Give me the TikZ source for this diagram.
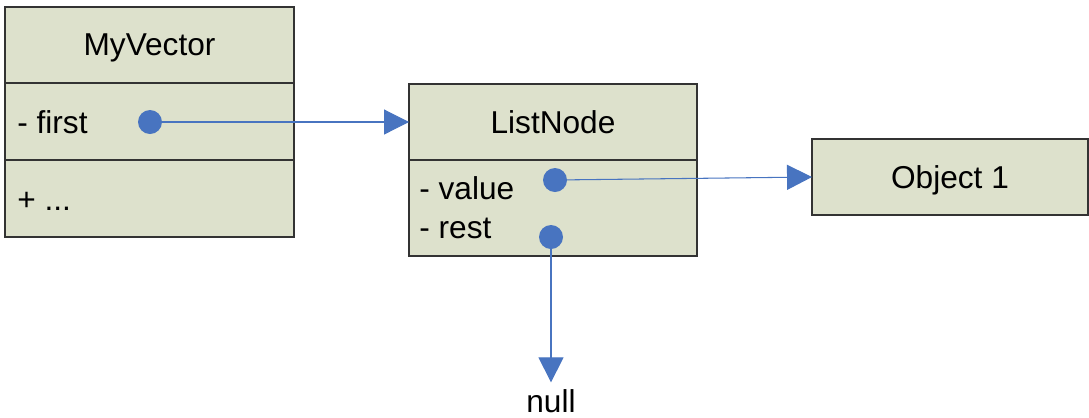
\documentclass[tikz,border=0pt]{standalone}
\usepackage{fontspec}
\setmainfont{Liberation Sans}
\usetikzlibrary{arrows.meta,positioning}
\definecolor{boxfill}{HTML}{DDE1CC}
\definecolor{ptrblue}{HTML}{4874C0}
\tikzset{
  part/.style={draw=black!80, fill=boxfill, line width=0.8pt, outer sep=0pt,
    inner sep=0pt, text depth=0pt, minimum width=5.78cm},
  txt/.style={anchor=west, inner sep=0pt},
  ptr/.style={circle, fill=ptrblue, minimum size=0.48cm, inner sep=0pt},
  link/.style={draw=ptrblue, line width=0.6pt, -{Triangle[length=0.5cm,width=0.5cm]}}
}
\begin{document}
\begin{tikzpicture}[x=0.02cm,y=-0.02cm,font=\fontsize{18}{22}\selectfont]
\useasboundingbox (0,0) rectangle (1089,417);
% MyVector
\node[part, minimum height=1.52cm] (mvtitle) at (149.5,45) {MyVector};
\node[part, minimum height=1.54cm, below=0pt of mvtitle] (mvattr) {};
\node[part, minimum height=1.54cm, below=0pt of mvattr] (mvops) {};
\node[txt] (mvfirst) at (17,122) {- first};
\node[txt] (mvmore) at (17,201) {+ ...};
\node[ptr] (firstptr) at (150,122) {};
% ListNode
\node[part, minimum width=5.76cm, minimum height=1.52cm] (lntitle) at (553,122) {ListNode};
\node[part, minimum width=5.76cm, minimum height=1.92cm, below=0pt of lntitle] (lnattr) {};
\node[txt] (lnvalue) at (419,188) {- value};
\node[txt] (lnrest) at (419,228) {- rest};
\node[ptr] (valueptr) at (555,180) {};
\node[ptr] (restptr) at (551,237) {};
% Object
\node[part, minimum width=5.52cm, minimum height=1.52cm] (obj) at (950,177) {Object 1};
\node[inner sep=0pt, outer sep=4pt] (null) at (551,401) {null};
% pointers
\draw[link] (firstptr.center) -- (lntitle.west);
\draw[link] (valueptr.center) -- (obj.west);
\draw[link] (restptr.center) -- (null.north);
\end{tikzpicture}
\end{document}
